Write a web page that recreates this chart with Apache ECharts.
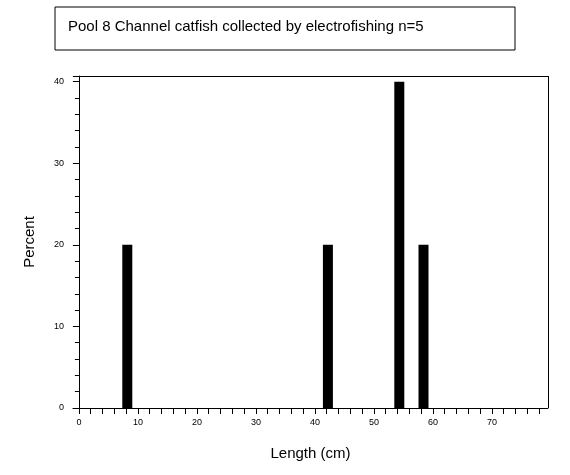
<!DOCTYPE html>
<html><head><meta charset="utf-8">
<script src="https://cdn.jsdelivr.net/npm/echarts@6/dist/echarts.min.js"></script>
<style>html,body{margin:0;background:#fff}#c{width:570px;height:475px}</style>
</head><body><div id="c"></div>
<script>
// length midpoints (cm) and percent
var lengths = [8.2, 42.2, 54.3, 58.4];
var percents = [20, 20, 40, 20];
var xTicks = [];
for (var t = 0; t <= 78; t += 2) xTicks.push(t);
var xLabels = [0, 10, 20, 30, 40, 50, 60, 70];

var chart = echarts.init(document.getElementById('c'));
chart.setOption({
    animation: false,
    graphic: [{
        type: 'rect', shape: {x: 55, y: 7, width: 460, height: 43},
        style: {fill: '#fff', stroke: '#000', lineWidth: 1}
    }, {
        type: 'text', left: 68, top: 19,
        style: {text: 'Pool 8 Channel catfish collected by electrofishing n=5', font: '15px Arial', fill: '#000'}
    }],
    grid: {left: 73, right: 22, top: 76, bottom: 67},
    xAxis: {
        type: 'value', min: -1, max: 79.5,
        name: 'Length (cm)', nameLocation: 'middle', nameGap: 38,
        nameTextStyle: {fontSize: 15, color: '#000', fontFamily: 'Arial'},
        axisLine: {lineStyle: {color: '#000'}},
        axisTick: {customValues: xTicks, length: 6, lineStyle: {color: '#000'}},
        axisLabel: {customValues: xLabels, fontSize: 9, color: '#000', margin: 10},
        splitLine: {show: false}
    },
    yAxis: {
        type: 'value', min: 0, max: 40.7, interval: 10,
        name: 'Percent', nameLocation: 'middle', nameGap: 36,
        nameTextStyle: {fontSize: 15, color: '#000', fontFamily: 'Arial'},
        axisLine: {show: true, lineStyle: {color: '#000'}},
        axisTick: {length: 6, lineStyle: {color: '#000'}},
        minorTick: {show: true, splitNumber: 5, length: 4, lineStyle: {color: '#000'}},
        axisLabel: {fontSize: 9, color: '#000', margin: 9,
            formatter: function (v) { return v % 10 === 0 ? v : ''; }},
        splitLine: {show: false}
    },
    series: [{
        type: 'bar', barWidth: 10,
        itemStyle: {color: '#000'},
        data: lengths.map(function (l, i) { return [l, percents[i]]; })
    }, {
        type: 'line', data: [], markLine: {
            silent: true, symbol: 'none', label: {show: false},
            lineStyle: {color: '#000', type: 'solid', width: 1},
            data: [[{coord: [-1, 40.7]}, {coord: [79.5, 40.7]}], [{xAxis: 79.5, yAxis: 0}, {xAxis: 79.5, yAxis: 40.7}]]
        }
    }]
});
</script></body></html>
